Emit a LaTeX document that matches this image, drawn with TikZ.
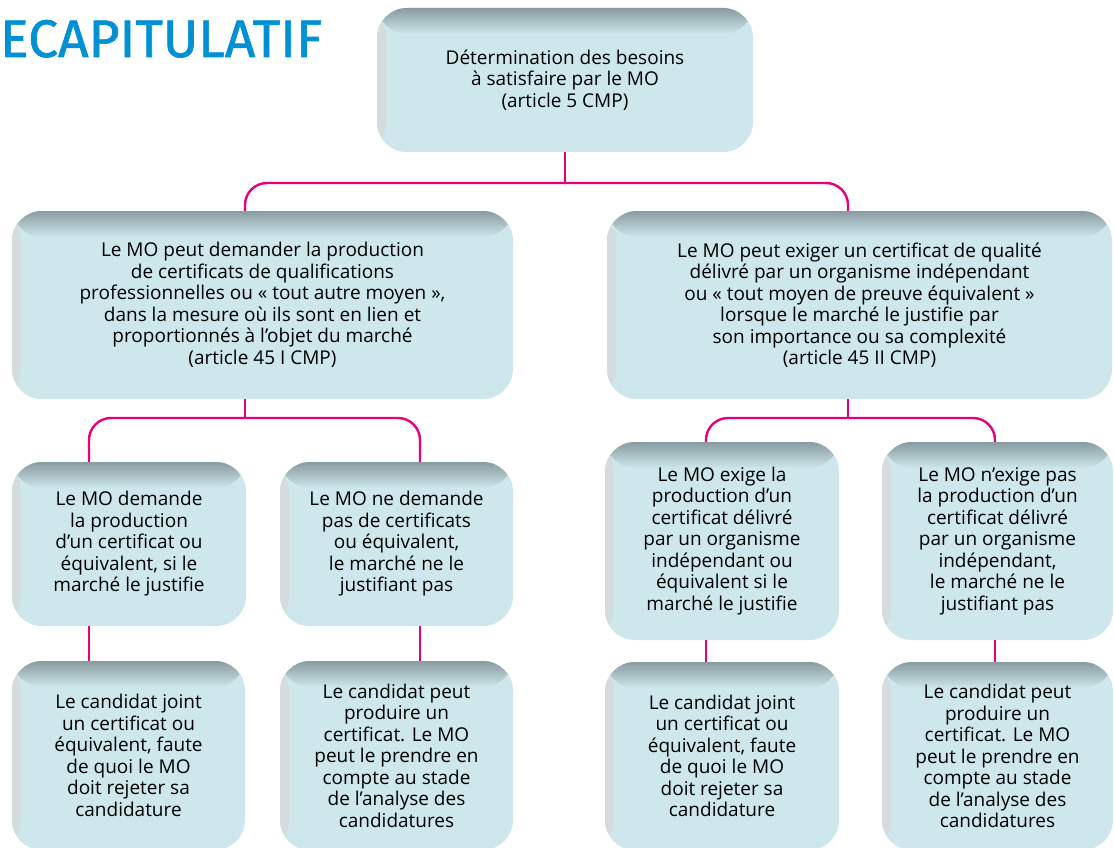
\documentclass[tikz,border=0pt]{standalone}
\usepackage{graphicx}
\usepackage{fontspec}
\setmainfont{Open Sans}
\newfontfamily\titlefont{Fira Sans}[FakeBold=1.2]
\usetikzlibrary{calc}
\definecolor{boxfill}{RGB}{205,231,236}
\definecolor{boxshadow}{RGB}{136,155,160}
\definecolor{connpink}{RGB}{229,0,125}
\definecolor{titleblue}{RGB}{0,144,212}
\begin{document}
\begin{tikzpicture}[x=1pt,y=-1pt,
  card/.style={rectangle, rounded corners=30pt, fill=boxfill, inner sep=0pt, align=center,
    font=\fontsize{19}{21.5}\selectfont, text=black,
    path picture={
      \shade[left color=boxshadow!35, right color=boxfill]
        (path picture bounding box.north west) rectangle ([xshift=9pt]path picture bounding box.south west);
      \shade[top color=boxshadow, bottom color=boxfill]
        (path picture bounding box.north west) rectangle ([yshift=-26pt]path picture bounding box.north east);
    }},
  link/.style={draw=connpink, line width=2.4pt},
  branch/.style={link, rounded corners=22pt},
]
\useasboundingbox (0,0) rectangle (1114,848);

\node[anchor=base west, inner sep=0pt, text=titleblue] (title) at (0,57)
  {\resizebox{322pt}{37pt}{\titlefont ECAPITULATIF}};

\node[card, minimum width=376pt, minimum height=144pt] (top) at (565,80)
  {Détermination des besoins\\à satisfaire par le MO\\(article 5 CMP)};

\node[card, minimum width=501pt, minimum height=188pt] (mL) at (262.5,305)
  {Le MO peut demander la production\\de certificats de qualifications\\professionnelles ou «~tout autre moyen~»,\\dans la mesure où ils sont en lien et\\proportionnés à l’objet du marché\\(article 45 I CMP)};
\node[card, minimum width=505pt, minimum height=188pt] (mR) at (859.5,305)
  {Le MO peut exiger un certificat de qualité\\délivré par un organisme indépendant\\ou «~tout moyen de preuve équivalent~»\\lorsque le marché le justifie par\\son importance ou sa complexité\\(article 45 II CMP)};

\node[card, minimum width=234pt, minimum height=164pt] (b1) at (129,544)
  {Le MO demande\\la production\\d’un certificat ou\\équivalent, si le\\marché le justifie};
\node[card, minimum width=233pt, minimum height=164pt] (b2) at (396.5,544)
  {Le MO ne demande\\pas de certificats\\ou équivalent,\\le marché ne le\\justifiant pas};
\node[card, minimum width=234pt, minimum height=198pt] (b3) at (722,541)
  {Le MO exige la\\production d’un\\certificat délivré\\par un organisme\\indépendant ou\\équivalent si le\\marché le justifie};
\node[card, minimum width=231pt, minimum height=198pt] (b4) at (997.5,541)
  {Le MO n’exige pas\\la production d’un\\certificat délivré\\par un organisme\\indépendant,\\le marché ne le\\justifiant pas};

\node[card, minimum width=233pt, minimum height=189pt] (c1) at (128.5,755.5)
  {Le candidat joint\\un certificat ou\\équivalent, faute\\de quoi le MO\\doit rejeter sa\\candidature};
\node[card, minimum width=233pt, minimum height=189pt] (c2) at (396.5,755.5)
  {Le candidat peut\\produire un\\certificat. Le MO\\peut le prendre en\\compte au stade\\de l’analyse des\\candidatures};
\node[card, minimum width=234pt, minimum height=188pt] (c3) at (722,756)
  {Le candidat joint\\un certificat ou\\équivalent, faute\\de quoi le MO\\doit rejeter sa\\candidature};
\node[card, minimum width=231pt, minimum height=188pt] (c4) at (997.5,756)
  {Le candidat peut\\produire un\\certificat. Le MO\\peut le prendre en\\compte au stade\\de l’analyse des\\candidatures};

% connector columns and junctions
\coordinate (xa) at (245,0);
\coordinate (xb) at (848,0);
\coordinate (xc) at (89,0);
\coordinate (xd) at (420,0);
\coordinate (xe) at (706,0);
\coordinate (xf) at (995,0);
\coordinate (j0) at (565,183);
\coordinate (j1) at (245,418);
\coordinate (j2) at (848,418);

\draw[link] (top.south) -- (j0);
\draw[branch] (xa |- mL.north) |- (j0) -| (xb |- mR.north);

\draw[link] (xa |- mL.south) -- (j1);
\draw[branch] (xc |- b1.north) |- (j1) -| (xd |- b2.north);
\draw[link] (xb |- mR.south) -- (j2);
\draw[branch] (xe |- b3.north) |- (j2) -| (xf |- b4.north);

\draw[link] (xc |- b1.south) -- (xc |- c1.north);
\draw[link] (xd |- b2.south) -- (xd |- c2.north);
\draw[link] (xe |- b3.south) -- (xe |- c3.north);
\draw[link] (xf |- b4.south) -- (xf |- c4.north);
\end{tikzpicture}
\end{document}
